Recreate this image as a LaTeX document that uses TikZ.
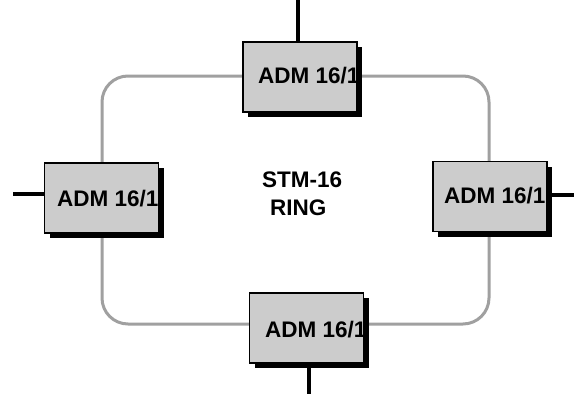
\documentclass[tikz,border=0pt]{standalone}
\usepackage{fontspec}
\setmainfont{Liberation Sans}
\usetikzlibrary{shadows}
\definecolor{boxgrey}{RGB}{204,204,204}
\definecolor{ringgrey}{RGB}{160,160,160}
\tikzset{
  admbox/.style={draw=black, line width=1.7pt, fill=boxgrey, minimum width=114pt, minimum height=70pt, inner sep=0pt,
    drop shadow={shadow xshift=5pt, shadow yshift=-5pt, fill=black, opacity=1}},
  admtext/.style={anchor=base west, inner sep=0pt, font=\bfseries\fontsize{22.5}{26}\selectfont},
  ring/.style={draw=ringgrey, line width=3pt, rounded corners=26pt},
  stub/.style={draw=black, line width=3.5pt}
}
\begin{document}
\begin{tikzpicture}[x=1pt, y=-1pt]
\useasboundingbox (0,0) rectangle (574,394);
% ring
\coordinate (r1) at (102,76);
\coordinate (r2) at (489,324);
\draw[ring] (r1) rectangle (r2);
% stubs end points
\coordinate (tS) at (298,0);
\coordinate (lS) at (13,194);
\coordinate (rS) at (574,195);
\coordinate (bS) at (309,394);
% boxes
\node[admbox] (top) at (300,77) {};
\node[admbox] (left) at (101.5,198) {};
\node[admbox] (right) at (490,196.5) {};
\node[admbox] (bottom) at (306.5,328) {};
% stubs
\draw[stub] (tS) -- (tS |- top.north);
\draw[stub] (lS) -- (lS -| left.west);
\draw[stub] (rS -| right.east) -- (rS);
\draw[stub] (bS |- bottom.south) -- (bS);
% labels
\node[admtext] (ttop) at (258,83) {ADM 16/1};
\node[admtext] (tleft) at (57,206) {ADM 16/1};
\node[admtext] (tright) at (444,203) {ADM 16/1};
\node[admtext] (tbottom) at (265,337) {ADM 16/1};
\node[admtext] (stm) at (262,187) {STM-16};
\node[admtext] (ringlbl) at (270,215) {RING};
\end{tikzpicture}
\end{document}
